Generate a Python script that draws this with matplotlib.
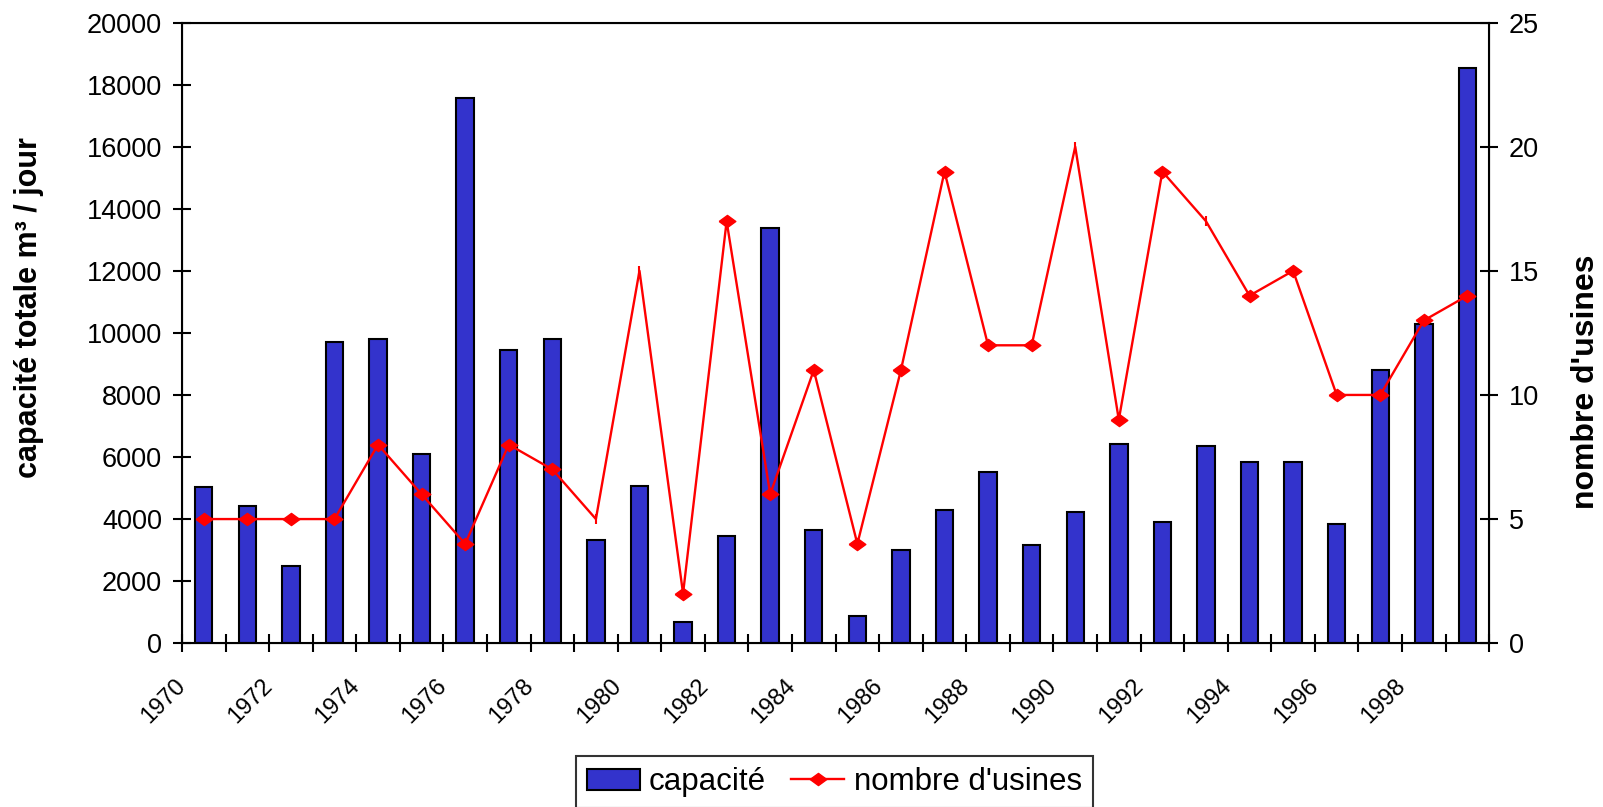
import matplotlib
matplotlib.use("Agg")
import matplotlib.pyplot as plt
from matplotlib.patches import Rectangle
from matplotlib.legend_handler import HandlerPatch
import numpy as np

plt.rcParams['font.family'] = ['Liberation Sans', 'DejaVu Sans']

years = list(range(1970, 2000))
capacite = [5020, 4430, 2500, 9720, 9790, 6100, 17570, 9450, 9790, 3340,
            5070, 690, 3460, 13380, 3660, 880, 3010, 4300, 5520, 3150,
            4230, 6430, 3900, 6370, 5840, 5840, 3850, 8810, 10290, 18550]
usines = [5, 5, 5, 5, 8, 6, 4, 8, 7, 5,
          15, 2, 17, 6, 11, 4, 11, 19, 12, 12,
          20, 9, 19, 17, 14, 15, 10, 10, 13, 14]
no_marker_years = [1979, 1980, 1990, 1993]
tick_years = list(range(1970, 2000, 2))

fig = plt.figure(figsize=(16.03, 8.07), dpi=100)
ax = fig.add_axes([0.1135, 0.203, 0.8155, 0.769])

pos = np.arange(len(years)) + 0.5
ax.bar(pos, capacite, width=0.4, color='#3333CC', edgecolor='black',
       linewidth=1.5, label='capacité', zorder=2)
ax.set_xlim(0, len(years))
ax.set_ylim(0, 20000)
ax.set_yticks(np.arange(0, 20001, 2000))
ax.set_xticks(np.arange(0, len(years) + 1))
ax.set_xticklabels([str(years[i]) if i < len(years) and years[i] in tick_years else ''
                    for i in range(len(years) + 1)],
                   rotation=45, ha='right', va='center', rotation_mode='anchor',
                   fontsize=17)
ax.tick_params(axis='both', direction='inout', width=1.5)
ax.tick_params(axis='y', length=12.5, pad=8, labelsize=19.5)
ax.tick_params(axis='x', length=12.5, pad=22)
for s in ax.spines.values():
    s.set_linewidth(1.5)
ax.set_ylabel('capacité totale m³ / jour', fontsize=22, fontweight='bold')
ax.yaxis.set_label_coords(-0.117, 0.5415)
ax.yaxis.label.set_verticalalignment('center')
ax.yaxis.label.set_horizontalalignment('center')

ax2 = ax.twinx()
ax2.set_ylim(0, 25)
ax2.set_yticks(np.arange(0, 26, 5))
ax2.tick_params(axis='y', direction='inout', width=1.5, length=12.5, labelsize=19.5, pad=8)
diamond = [(-1, 0), (0, 0.73), (1, 0), (0, -0.73), (-1, 0)]
mark_idx = [i for i, y in enumerate(years) if y not in no_marker_years]
tick_idx = [i for i, y in enumerate(years) if y in no_marker_years]
line, = ax2.plot(pos, usines, color='red', linewidth=1.7, marker=diamond, markersize=12,
                 markevery=mark_idx, label="nombre d'usines", zorder=3)
ax2.plot(pos[tick_idx], [usines[i] for i in tick_idx], linestyle='none',
         marker='|', markersize=7, color='red', markeredgewidth=1.5)
ax2.set_ylabel("nombre d'usines", fontsize=23, fontweight='bold')
ax2.yaxis.set_label_coords(1.074, 0.422)
ax2.yaxis.label.set_verticalalignment('center')
ax2.yaxis.label.set_horizontalalignment('center')


def small_patch(legend, orig_handle, xdescent, ydescent, width, height, fontsize):
    return Rectangle((-xdescent + 0.21 * width, -ydescent), 0.79 * width, height * 0.95)


h1, l1 = ax.get_legend_handles_labels()
leg = fig.legend(h1 + [line], l1 + ["nombre d'usines"], loc='upper center',
                 bbox_to_anchor=(0.5204, 0.0626), ncol=2, fontsize=22.5,
                 frameon=True, fancybox=False, edgecolor='black',
                 handlelength=1.7, handletextpad=0.3, columnspacing=0.8,
                 borderpad=0.35, borderaxespad=0,
                 handler_map={Rectangle: HandlerPatch(patch_func=small_patch)})
leg.get_frame().set_linewidth(1.5)

fig.savefig('out.png', dpi=100)
